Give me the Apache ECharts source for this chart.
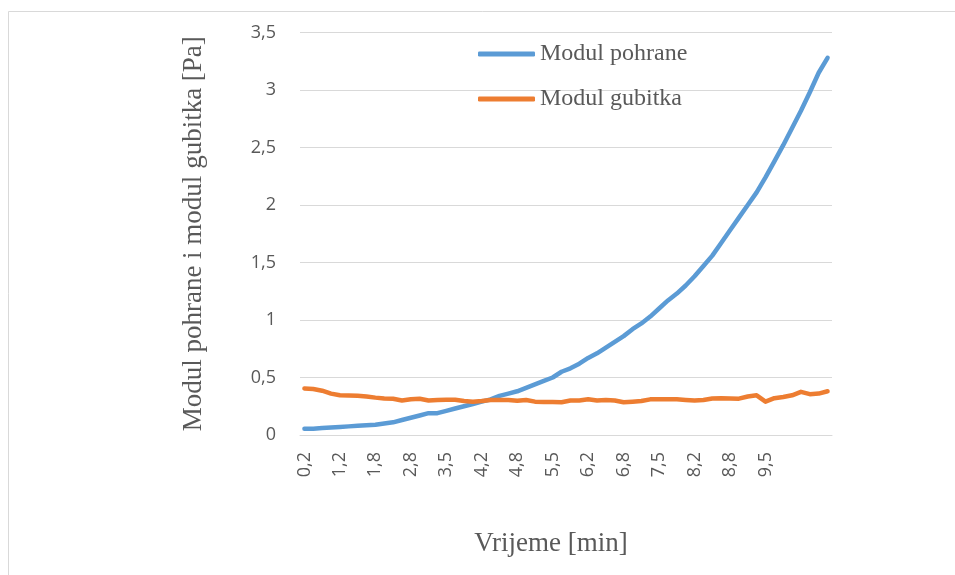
<!DOCTYPE html>
<html>
<head>
<meta charset="utf-8">
<script src="https://cdn.jsdelivr.net/npm/echarts@6/dist/echarts.min.js"></script>
<style>
html,body{margin:0;padding:0;background:#fff;}
#chart{width:955px;height:575px;}
</style>
</head>
<body>
<div id="chart"></div>
<script>
// Tick labels shown on the category axis (every 4th sample, up to 9,5)
var tickLabels = ['0,2','1,2','1,8','2,8','3,5','4,2','4,8','5,5','6,2','6,8','7,5','8,2','8,8','9,5'];
var labelEvery = 4;
var pointCount = 60;

var modulPohrane = [
  0.055,0.055,0.06,0.065,0.07,0.075,0.08,0.085,0.09,0.10,
  0.11,0.13,0.15,0.17,0.19,0.19,0.21,0.23,0.25,0.27,
  0.29,0.31,0.34,0.36,0.38,0.41,0.44,0.47,0.50,0.55,
  0.58,0.62,0.67,0.71,0.76,0.81,0.86,0.92,0.97,1.03,
  1.10,1.17,1.23,1.30,1.38,1.47,1.56,1.67,1.78,1.89,
  2.00,2.11,2.24,2.38,2.52,2.67,2.82,2.98,3.15,3.28
];
var modulGubitka = [
  0.405,0.40,0.385,0.36,0.345,0.343,0.342,0.335,0.325,0.318,
  0.315,0.30,0.31,0.315,0.30,0.305,0.307,0.307,0.295,0.29,
  0.295,0.305,0.305,0.305,0.298,0.305,0.29,0.288,0.288,0.285,
  0.30,0.30,0.31,0.30,0.305,0.30,0.285,0.29,0.295,0.31,
  0.31,0.31,0.31,0.305,0.30,0.305,0.318,0.32,0.318,0.316,
  0.335,0.345,0.29,0.32,0.33,0.345,0.375,0.355,0.36,0.38
];

var categories = [];
for (var i = 0; i < pointCount; i++) {
  var k = i / labelEvery;
  categories.push(i % labelEvery === 0 && k < tickLabels.length ? tickLabels[k] : '');
}

var chart = echarts.init(document.getElementById('chart'), null, {renderer:'canvas'});
var grey = '#595959';
chart.setOption({
  animation: false,
  backgroundColor: '#ffffff',
  graphic: [{
    type: 'rect', silent: true, z: -10,
    shape: {x: 8.5, y: 11.5, width: 1000, height: 700},
    style: {fill: 'none', stroke: '#d9d9d9', lineWidth: 1}
  }],
  grid: {left: 300, right: 123, top: 32.5, bottom: 140, containLabel: false},
  legend: {
    orient: 'vertical', left: 473, top: 37, itemGap: 21,
    icon: 'roundRect', itemWidth: 57, itemHeight: 5,
    textStyle: {fontFamily: 'Liberation Serif', fontSize: 24, color: grey},
    data: ['Modul pohrane', 'Modul gubitka']
  },
  xAxis: {
    type: 'category', boundaryGap: true, data: categories,
    name: 'Vrijeme [min]', nameLocation: 'middle', nameGap: 95,
    nameTextStyle: {fontFamily: 'Liberation Serif', fontSize: 27, color: grey, padding: [0, 30, 0, 0]},
    axisLine: {lineStyle: {color: '#d9d9d9', width: 1}},
    axisTick: {show: false},
    axisLabel: {interval: 0, rotate: 90, margin: 17, fontFamily: 'Open Sans', fontSize: 18, color: grey}
  },
  yAxis: {
    type: 'value', min: 0, max: 3.5, interval: 0.5,
    name: 'Modul pohrane i modul gubitka [Pa]', nameLocation: 'middle', nameGap: 93, nameRotate: 90,
    nameTextStyle: {fontFamily: 'Liberation Serif', fontSize: 27, color: grey},
    axisLine: {show: false}, axisTick: {show: false},
    splitLine: {lineStyle: {color: '#d9d9d9', width: 1}},
    axisLabel: {margin: 24, fontFamily: 'Open Sans', fontSize: 18, color: grey,
      formatter: function (v) { return String(v).replace('.', ','); }}
  },
  series: [
    {name: 'Modul pohrane', type: 'line', data: modulPohrane, symbol: 'none',
     itemStyle: {color: '#5B9BD5'},
     lineStyle: {color: '#5B9BD5', width: 4.5, cap: 'round', join: 'round'}},
    {name: 'Modul gubitka', type: 'line', data: modulGubitka, symbol: 'none',
     itemStyle: {color: '#ED7D31'},
     lineStyle: {color: '#ED7D31', width: 4.5, cap: 'round', join: 'round'}}
  ]
});
</script>
</body>
</html>
